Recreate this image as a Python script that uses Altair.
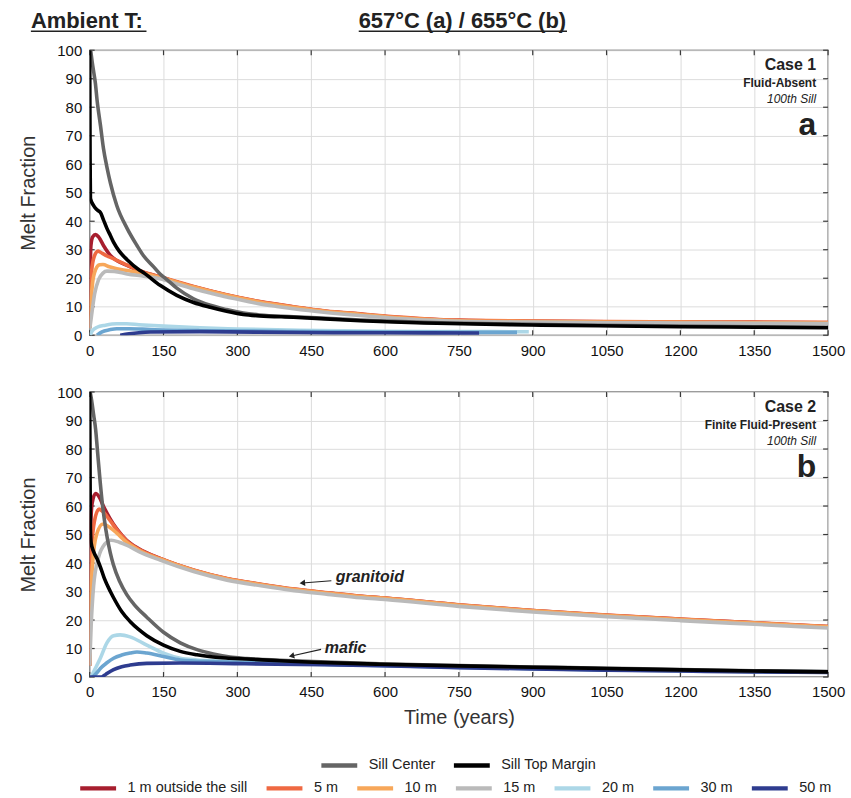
import altair as alt
import pandas as pd

FONT = "Liberation Sans"
INK = "#3a3a3a"

TITLE_LEFT = "Ambient T:"
TITLE_RIGHT = "657°C (a) / 655°C (b)"

X_TICKS = list(range(0, 1501, 150))
Y_TICKS = list(range(0, 101, 10))

DIST_NAMES = ["1 m outside the sill", "5 m", "10 m", "15 m", "20 m", "30 m", "50 m"]
DIST_COLORS = ["#a71e2e", "#ef6942", "#f7a75a", "#bababa", "#acd7e7", "#6ba5d0", "#2e3c8f"]
SILL_NAMES = ["Sill Center", "Sill Top Margin"]
SILL_COLORS = ["#656565", "#000000"]

# ---------------- Case 1: fluid-absent (a) ----------------
A_1M_T = [0, 1, 2.5, 6, 12, 18, 28, 42, 55, 76, 109, 143, 211, 278, 346, 414, 480, 549, 600, 680, 750, 900, 1050, 1200, 1350, 1500]
A_1M_V = [2.5, 20, 31.5, 34.5, 35.3, 34.5, 31.5, 28, 26.2, 24.5, 22.1, 20.4, 17, 14.1, 11.7, 9.9, 8.4, 7.4, 6.6, 5.7, 5.2, 4.9, 4.7, 4.6, 4.5, 4.4]
A_5M_T = [0, 1.5, 4, 9, 17, 25, 35, 42, 55, 76, 109, 143, 211, 278, 346, 414, 480, 549, 600, 680, 750, 900, 1050, 1200, 1350, 1500]
A_5M_V = [2.5, 14, 22.5, 27.5, 29.5, 28.8, 27.8, 27.3, 26.3, 24.6, 22.2, 20.5, 17.1, 14.2, 11.8, 10.0, 8.5, 7.5, 6.7, 5.8, 5.3, 5.0, 4.8, 4.7, 4.6, 4.5]
A_10M_T = [0, 2, 6, 12, 20, 27, 40, 55, 76, 109, 143, 211, 278, 346, 414, 480, 549, 600, 680, 750, 900, 1050, 1200, 1350, 1500]
A_10M_V = [2.5, 10, 18.5, 23, 24.7, 24.8, 24, 23.3, 22.7, 21.7, 20.3, 16.9, 14.0, 11.6, 9.8, 8.3, 7.3, 6.5, 5.6, 5.1, 4.8, 4.6, 4.5, 4.4, 4.3]
A_15M_T = [0, 5, 10, 18, 27, 35, 50, 76, 110, 143, 177, 211, 245, 278, 312, 346, 380, 414, 480, 549, 600, 680, 750, 900, 1050, 1200, 1350, 1500]
A_15M_V = [2, 8.5, 14.5, 19.5, 21.8, 22.5, 22.4, 21.5, 20.7, 19.8, 18, 16.3, 14.8, 13.4, 12.2, 11.0, 10.1, 9.3, 8.0, 6.9, 6.2, 5.3, 4.9, 4.6, 4.4, 4.3, 4.2, 4.1]
A_20M_T = [1, 5, 15, 32, 55, 75, 100, 150, 224, 300, 427, 600, 750, 892]
A_20M_V = [0, 1.5, 2.8, 3.5, 4.0, 4.0, 3.7, 3.2, 2.6, 2.2, 1.7, 1.4, 1.3, 1.2]
A_30M_T = [15, 25, 40, 55, 80, 123, 224, 427, 600, 750, 868]
A_30M_V = [0, 1.2, 1.9, 2.3, 2.3, 2.0, 1.6, 1.3, 1.1, 1.0, 1.0]
A_50M_T = [62, 80, 100, 123, 224, 427, 600, 791]
A_50M_V = [0, 0.5, 0.9, 1.15, 1.25, 0.95, 0.85, 0.8]
A_CENTER_T = [2, 5, 8, 11.5, 15, 22, 28, 35, 42, 55, 76, 96, 109, 130, 143, 157, 177, 211, 245, 278, 312, 345, 414, 550, 731, 900, 1034, 1200, 1350, 1500]
A_CENTER_V = [100, 96, 92.5, 88.5, 82.5, 73.5, 65.5, 59, 53.5, 45.5, 37.5, 31.5, 28, 24, 21.5, 19.5, 16.5, 12.8, 10.5, 9.0, 7.8, 7.1, 6.5, 5.3, 4.3, 3.8, 3.5, 3.2, 3.0, 2.8]
A_MARGIN_T = [0, 0.8, 1.5, 8, 15, 22, 28, 35, 42, 49, 60, 76, 100, 109, 143, 177, 211, 245, 278, 312, 345, 414, 550, 731, 900, 1034, 1200, 1350, 1500]
A_MARGIN_V = [100, 62, 48, 45.5, 44, 43, 40.5, 37.5, 35, 32.5, 29.5, 26.5, 23, 22, 17.5, 14, 11.5, 9.8, 8.4, 7.3, 6.8, 6.3, 5.1, 4.1, 3.6, 3.3, 3.0, 2.8, 2.6]

# ---------------- Case 2: finite fluid-present (b) ----------------
B_1M_T = [0, 1, 2.5, 5, 12, 20, 27, 41, 55, 75, 100, 143, 211, 279, 348, 416, 484, 552, 600, 750, 900, 1050, 1200, 1350, 1500]
B_1M_V = [4, 35, 55, 61, 64.4, 63, 60.3, 55.7, 52, 48, 45, 41.6, 37.5, 34.5, 32.5, 30.8, 29.5, 28.3, 27.7, 25.3, 23.3, 21.7, 20.3, 19.0, 17.7]
B_5M_T = [0, 1.5, 4, 10, 19, 27, 41, 55, 75, 100, 143, 211, 279, 348, 416, 484, 552, 600, 750, 900, 1050, 1200, 1350, 1500]
B_5M_V = [4, 30, 45, 55, 58.9, 58, 55, 51.7, 47.8, 44.8, 41.6, 37.55, 34.55, 32.55, 30.85, 29.55, 28.35, 27.75, 25.35, 23.35, 21.75, 20.35, 19.05, 17.75]
B_10M_T = [0, 2, 6, 14, 27, 41, 55, 75, 100, 143, 211, 279, 348, 416, 484, 552, 600, 750, 900, 1050, 1200, 1350, 1500]
B_10M_V = [4, 25, 40, 50, 53.7, 52.5, 50.5, 47.3, 44.5, 41.4, 37.4, 34.4, 32.4, 30.7, 29.4, 28.2, 27.6, 25.2, 23.2, 21.6, 20.2, 18.9, 17.6]
B_15M_T = [0, 3, 8, 18, 30, 44, 60, 75, 100, 143, 211, 279, 348, 416, 484, 552, 600, 750, 900, 1050, 1200, 1350, 1500]
B_15M_V = [4, 18, 32, 42, 46.5, 48, 47.3, 46.3, 44, 41, 37, 34, 32, 30.3, 29, 27.8, 27.2, 24.8, 22.8, 21.2, 19.8, 18.5, 17.2]
B_20M_T = [3, 10, 21.6, 35, 48.6, 62, 82, 116, 150, 184, 218, 251, 319, 386, 454, 589, 750, 900, 1050, 1200, 1350, 1500]
B_20M_V = [0, 2.5, 6.6, 12, 14.5, 14.8, 14.1, 11.2, 8.4, 6.6, 6.0, 5.7, 5.3, 5.0, 4.6, 4.1, 3.5, 3.0, 2.6, 2.3, 2.0, 1.8]
B_30M_T = [6, 15, 21.6, 35, 48.6, 65, 82, 96, 116, 150, 184, 251, 319, 386, 454, 589, 750, 900, 1050, 1200, 1350, 1500]
B_30M_V = [0, 1.6, 3.0, 5.0, 6.6, 7.7, 8.4, 8.8, 8.4, 7.2, 6.0, 5.4, 5.1, 4.8, 4.5, 4.05, 3.4, 2.9, 2.5, 2.2, 1.9, 1.7]
B_50M_T = [0, 24, 30, 35, 48.6, 65, 82, 116, 184, 300, 427, 589, 750, 900, 1050, 1200, 1350, 1500]
B_50M_V = [0, 0, 0.6, 1.2, 2.6, 3.6, 4.2, 4.8, 4.9, 4.7, 4.4, 4.0, 3.3, 2.8, 2.4, 2.1, 1.8, 1.6]
B_CENTER_T = [1, 4, 8, 12, 16, 20, 25, 30, 36, 42, 48, 61, 75, 90, 116, 150, 184, 218, 251, 285, 319, 386, 454, 589, 750, 900, 1050, 1200, 1350, 1500]
B_CENTER_V = [100, 97, 92, 87, 79, 71, 62, 55, 48.5, 43.5, 39.5, 33.5, 29, 25.5, 21, 15.7, 12, 9.6, 8.1, 7.0, 6.5, 5.9, 5.4, 4.6, 4.0, 3.5, 3.1, 2.6, 2.2, 1.9]
B_MARGIN_T = [0, 0.8, 1.5, 3, 8, 15, 22, 30, 42, 48, 65, 82, 100, 116, 150, 184, 218, 251, 285, 319, 386, 454, 589, 750, 900, 1050, 1200, 1350, 1500]
B_MARGIN_V = [100, 70, 52, 47, 44, 41.5, 38.5, 34.5, 30, 28, 23, 19.5, 16.6, 14.5, 11.2, 9.0, 7.8, 7.0, 6.6, 6.3, 5.7, 5.2, 4.5, 3.9, 3.45, 3.0, 2.5, 2.1, 1.8]

# panel corner labels
A_LABELS = ["Case 1", "Fluid-Absent", "100th Sill", "a"]
B_LABELS = ["Case 2", "Finite Fluid-Present", "100th Sill", "b"]

# arrow annotations in panel b (years, melt %)
NOTE_TEXT = ["granitoid", "mafic"]
NOTE_T = [569, 520]
NOTE_V = [35.0, 10.3]
ARROW_TAIL_T = [491, 470]
ARROW_TAIL_V = [33.8, 9.7]
ARROW_HEAD_T = [432, 410]
ARROW_HEAD_V = [33.0, 7.4]
ARROW_ANGLE = [355, 347]

W, H = 741, 286
TICK = 5
X_SCALE = alt.Scale(domain=[0, 1500], nice=False, zero=False)
Y_SCALE = alt.Scale(domain=[0, 100], nice=False, zero=False)

AXIS_STYLE = dict(
    format="d", grid=True, gridColor="#dcdcdc", domain=False, ticks=False,
    labelPadding=8, labelFontSize=15, labelFont=FONT, labelColor="#111", labelFlush=False,
    titleFont=FONT, titleFontSize=20, titleFontWeight="normal", titleColor="#333",
)
X_AXIS = alt.Axis(values=X_TICKS, orient="bottom", titlePadding=8, **AXIS_STYLE)
Y_AXIS = alt.Axis(values=Y_TICKS, orient="left", titlePadding=18, **AXIS_STYLE)


def enc_x(field, title):
    return alt.X(field, scale=X_SCALE, axis=X_AXIS, title=title)


def enc_y(field):
    return alt.Y(field, scale=Y_SCALE, axis=Y_AXIS, title="Melt Fraction")


def series_table(series):
    parts = [pd.DataFrame({"t": t, "v": v, "series": name}) for name, t, v in series]
    return pd.concat(parts, ignore_index=True)


def lines(series, names, colors, legend, xtitle):
    # rows are kept in series order so later series are drawn on top
    return (
        alt.Chart(series_table(series))
        .mark_line(strokeWidth=3.6, interpolate="monotone", clip=True)
        .encode(
            x=enc_x("t:Q", xtitle),
            y=enc_y("v:Q"),
            color=alt.Color("series:N", scale=alt.Scale(domain=names, range=colors), legend=legend),
        )
    )


def inner_ticks(xtitle):
    xt = pd.DataFrame({"t": X_TICKS})
    yt = pd.DataFrame({"v": Y_TICKS})
    rule = dict(color=INK, strokeWidth=1.2)
    return [
        alt.Chart(xt).mark_rule(**rule).encode(x=enc_x("t:Q", xtitle), y=alt.value(H), y2=alt.value(H - TICK)),
        alt.Chart(xt).mark_rule(**rule).encode(x=enc_x("t:Q", xtitle), y=alt.value(0), y2=alt.value(TICK)),
        alt.Chart(yt).mark_rule(**rule).encode(y=enc_y("v:Q"), x=alt.value(0), x2=alt.value(TICK)),
        alt.Chart(yt).mark_rule(**rule).encode(y=enc_y("v:Q"), x=alt.value(W), x2=alt.value(W - TICK)),
    ]


def corner_labels(labels):
    sizes = [16, 12, 12, 32]
    weights = ["bold", "bold", "normal", "bold"]
    styles = ["normal", "normal", "italic", "normal"]
    ys = [15, 33, 49, 75]
    out = []
    for text, size, weight, style, y in zip(labels, sizes, weights, styles, ys):
        out.append(
            alt.Chart(pd.DataFrame({"label": [text]}))
            .mark_text(align="right", baseline="middle", font=FONT, fontSize=size,
                       fontWeight=weight, fontStyle=style, color="#222")
            .encode(x=alt.value(W - 12), y=alt.value(y), text="label:N")
        )
    return out


def notes_layers(xtitle):
    notes = pd.DataFrame({
        "text": NOTE_TEXT, "t": NOTE_T, "v": NOTE_V,
        "t0": ARROW_TAIL_T, "v0": ARROW_TAIL_V,
        "t1": ARROW_HEAD_T, "v1": ARROW_HEAD_V, "angle": ARROW_ANGLE,
    })
    base = alt.Chart(notes)
    text = base.mark_text(font=FONT, fontSize=16, fontWeight="bold", fontStyle="italic",
                          color="#222", baseline="middle").encode(
        x=enc_x("t:Q", xtitle), y=enc_y("v:Q"), text="text:N")
    shaft = base.mark_rule(color="#222", strokeWidth=1.1).encode(
        x=enc_x("t0:Q", xtitle), y=enc_y("v0:Q"), x2="t1:Q", y2="v1:Q")
    head = base.mark_point(shape="triangle-left", filled=True, color="#222", size=40, opacity=1).encode(
        x=enc_x("t1:Q", xtitle), y=enc_y("v1:Q"), angle=alt.Angle("angle:Q", scale=None))
    return [shaft, head, text]


def heading_layers():
    heading = alt.Chart(pd.DataFrame({"left": [TITLE_LEFT], "right": [TITLE_RIGHT]}))
    left = heading.mark_text(align="left", baseline="middle", font=FONT, fontSize=22,
                             fontWeight="bold", color="#222").encode(
        x=alt.value(-59), y=alt.value(-29), text="left:N")
    right = heading.mark_text(align="center", baseline="middle", font=FONT, fontSize=22,
                              fontWeight="bold", color="#222").encode(
        x=alt.value(374), y=alt.value(-29), text="right:N")
    under_left = heading.mark_rule(color="#222", strokeWidth=1.6).encode(
        x=alt.value(-59), x2=alt.value(57), y=alt.value(-19))
    under_right = heading.mark_rule(color="#222", strokeWidth=1.6).encode(
        x=alt.value(270), x2=alt.value(479), y=alt.value(-19))
    return [left, right, under_left, under_right]


def panel(dist_series, sill_series, labels, bottom):
    xtitle = "Time (years)" if bottom else None
    dist_legend = None
    sill_legend = None
    if bottom:
        common = dict(
            title=None, orient="none", direction="horizontal",
            symbolType="M-2.25,0H2.25", symbolSize=256, symbolStrokeWidth=4.5,
            labelFont=FONT, labelFontSize=14.5, labelColor="#222", labelOffset=19,
            columnPadding=9, labelLimit=0,
        )
        sill_legend = alt.Legend(legendX=240, legendY=364, **common)
        dist_legend = alt.Legend(legendX=-2, legendY=387, **common)
    dist = lines(dist_series, DIST_NAMES, DIST_COLORS, dist_legend, xtitle)
    sill = lines(sill_series, SILL_NAMES, SILL_COLORS, sill_legend, xtitle)
    extra = notes_layers(xtitle) if bottom else heading_layers()
    return (
        alt.layer(*inner_ticks(xtitle), dist, sill, *corner_labels(labels), *extra)
        .resolve_scale(color="independent")
        .properties(width=W, height=H)
    )


A_DIST = [
    (DIST_NAMES[0], A_1M_T, A_1M_V), (DIST_NAMES[1], A_5M_T, A_5M_V),
    (DIST_NAMES[2], A_10M_T, A_10M_V), (DIST_NAMES[3], A_15M_T, A_15M_V),
    (DIST_NAMES[4], A_20M_T, A_20M_V), (DIST_NAMES[5], A_30M_T, A_30M_V),
    (DIST_NAMES[6], A_50M_T, A_50M_V),
]
A_SILL = [(SILL_NAMES[0], A_CENTER_T, A_CENTER_V), (SILL_NAMES[1], A_MARGIN_T, A_MARGIN_V)]
B_DIST = [
    (DIST_NAMES[0], B_1M_T, B_1M_V), (DIST_NAMES[1], B_5M_T, B_5M_V),
    (DIST_NAMES[2], B_10M_T, B_10M_V), (DIST_NAMES[3], B_15M_T, B_15M_V),
    (DIST_NAMES[4], B_20M_T, B_20M_V), (DIST_NAMES[5], B_30M_T, B_30M_V),
    (DIST_NAMES[6], B_50M_T, B_50M_V),
]
B_SILL = [(SILL_NAMES[0], B_CENTER_T, B_CENTER_V), (SILL_NAMES[1], B_MARGIN_T, B_MARGIN_V)]

panel_a = panel(A_DIST, A_SILL, A_LABELS, False)
panel_b = panel(B_DIST, B_SILL, B_LABELS, True)

chart = (
    alt.vconcat(panel_a, panel_b, spacing=25,
                padding={"left": 18, "top": 8, "right": 5, "bottom": 0})
    .resolve_scale(color="independent")
    .configure_view(stroke=INK, strokeWidth=1.3)
)

chart.save("out.html", embed_options={"renderer": "svg", "actions": False})
